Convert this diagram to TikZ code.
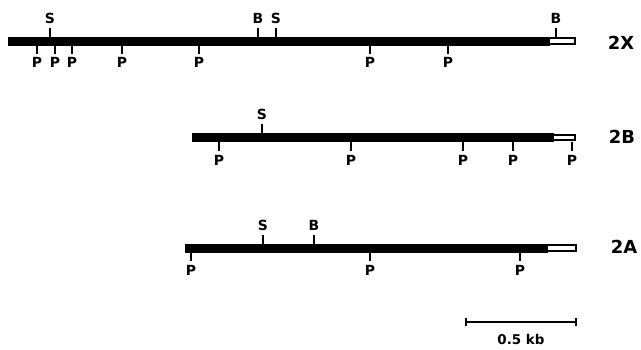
\documentclass[tikz,border=0pt]{standalone}
\usepackage{fontspec}
\setmainfont{DejaVu Sans}
\begin{document}
\begin{tikzpicture}[x=1bp,y=-1bp,
  site/.style={font=\bfseries\fontsize{14}{14}\selectfont, inner sep=0pt},
  clone/.style={font=\bfseries\fontsize{18}{18}\selectfont, inner sep=0pt},
  sitetick/.style={line width=1.6bp},
  dna/.style={fill=black},
  tail/.style={fill=white, draw=black, line width=1.3bp}]
\useasboundingbox (0,0) rectangle (641,349);

% ---------- 2X ----------
\fill[dna] (8,36.5) rectangle (550,45.5);
\draw[tail] (549,38) rectangle (575,44);
\foreach \x/\l in {50/S,258/B,276/S,556/B}
  \draw[sitetick] (\x,37) -- ++(0,-9) node[site, above=4bp] {\l};
\foreach \x in {37,55,72,122,199,370,448}
  \draw[sitetick] (\x,45) -- ++(0,9) node[site, below=3bp] {P};
\node[clone] (c2x) at (621,43) {2X};

% ---------- 2B ----------
\fill[dna] (192,133) rectangle (554,142);
\draw[tail] (553,135) rectangle (575,140);
\draw[sitetick] (262,133) -- ++(0,-9) node[site, above=4bp] {S};
\foreach \x in {219,351,463,513,572}
  \draw[sitetick] (\x,142) -- ++(0,9) node[site, below=4bp] {P};
\node[clone] (c2b) at (622,137) {2B};

% ---------- 2A ----------
\fill[dna] (185,243.5) rectangle (548,252.5);
\draw[tail] (547,245) rectangle (576,251);
\foreach \x/\l in {263/S,314/B}
  \draw[sitetick] (\x,244) -- ++(0,-9) node[site, above=4bp] {\l};
\foreach \x in {191,370,520}
  \draw[sitetick] (\x,252) -- ++(0,9) node[site, below=4bp] {P};
\node[clone] (c2a) at (624,247) {2A};

% ---------- scale bar ----------
\coordinate (sbl) at (466,322);
\coordinate (sbr) at (576,322);
\draw[sitetick] (sbl) -- (sbr);
\draw[sitetick] ([yshift=4bp]sbl) -- ([yshift=-4bp]sbl);
\draw[sitetick] ([yshift=4bp]sbr) -- ([yshift=-4bp]sbr);
\node[inner sep=0pt, font=\bfseries\fontsize{13.5}{13.5}\selectfont] (sblab) at (521,339) {0.5 kb};
\end{tikzpicture}
\end{document}
